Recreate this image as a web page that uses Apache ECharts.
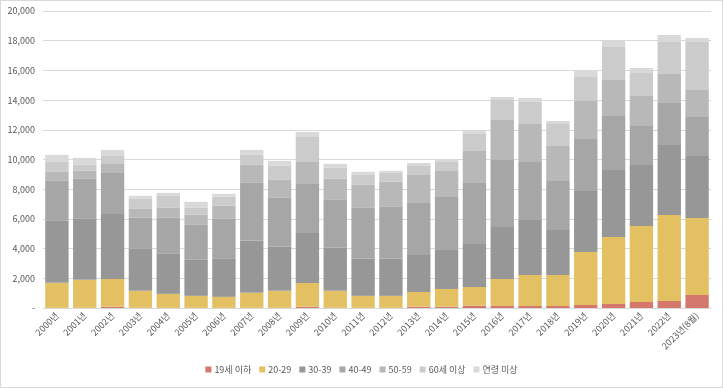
<!DOCTYPE html>
<html><head><meta charset="utf-8">
<script src="https://cdn.jsdelivr.net/npm/echarts@6/dist/echarts.min.js"></script>
<style>html,body{margin:0;padding:0;background:#fff}#c{width:721px;height:386px;border:1px solid #d9d9d9}</style>
</head><body><div id="c"></div>
<script>
const categories = ['2000년','2001년','2002년','2003년','2004년','2005년','2006년','2007년','2008년','2009년','2010년','2011년','2012년','2013년','2014년','2015년','2016년','2017년','2018년','2019년','2020년','2021년','2022년','2023년(8월)'];
const under19 = [10,10,90,10,10,10,10,10,10,90,10,10,10,90,90,157,135,135,135,202,269,404,471,875];
const age20s = [1684,1886,1863,1145,943,808,741,1010,1145,1594,1145,808,808,987,1190,1257,1818,2087,2087,3569,4512,5118,5792,5186];
const age30s = [4175,4107,4377,2828,2693,2424,2559,3524,2963,3367,2895,2492,2492,2492,2626,2896,3502,3704,3031,4108,4512,4108,4714,4175];
const age40s = [2693,2694,2761,2088,2425,2357,2693,3884,3299,3299,3233,3434,3501,3502,3569,4108,4512,3906,3299,3502,3637,2626,2828,2626];
const age50s = [606,539,606,606,673,674,876,1212,1213,1482,1414,1549,1684,1885,1751,2155,2693,2559,2357,2559,2424,2020,1953,1818];
const age60plus = [674,404,539,673,808,471,606,673,943,1684,741,673,606,607,606,1144,1347,1481,1482,1616,2222,1549,2155,3233];
const unknown = [471,471,404,202,202,404,202,337,336,336,269,202,135,202,202,202,202,270,202,471,471,337,471,269];
const yTicks = [0,2000,4000,6000,8000,10000,12000,14000,16000,18000,20000];

const seriesNames = ['19세 이하','20-29','30-39','40-49','50-59','60세 이상','연령 미상'];
const seriesData = [under19, age20s, age30s, age40s, age50s, age60plus, unknown];
const colors = ['#D4786D','#E3C163','#979797','#A6A6A6','#B8B8B8','#CBCBCB','#D9D9D9'];
const font = "'Noto Sans CJK KR', 'Noto Sans', sans-serif";

const chart = echarts.init(document.getElementById('c'));
chart.setOption({
  animation: false,
  textStyle: {fontFamily: font},
  grid: {left: 42, right: 11, top: 10, bottom: 79, containLabel: false},
  legend: {
    bottom: 8, left: 'center',
    itemWidth: 6, itemHeight: 6, itemGap: 8,
    icon: 'rect',
    textStyle: {fontSize: 9, color: '#595959', fontFamily: font, padding: [0,0,0,-2]},
    data: seriesNames
  },
  xAxis: {
    type: 'category', data: categories,
    axisLine: {lineStyle: {color: '#d9d9d9'}},
    axisTick: {show: false},
    axisLabel: {rotate: 45, fontSize: 9, color: '#595959', interval: 0, margin: 6}
  },
  yAxis: {
    type: 'value', min: yTicks[0], max: yTicks[yTicks.length - 1], interval: 2000,
    axisLine: {show: false}, axisTick: {show: false},
    splitLine: {lineStyle: {color: '#d9d9d9'}},
    axisLabel: {fontSize: 9, color: '#595959', margin: 8,
      formatter: v => v === 0 ? '-' : v.toLocaleString('en-US')}
  },
  series: seriesNames.map((n, i) => ({
    name: n, type: 'bar', stack: 'total', data: seriesData[i],
    barCategoryGap: '16%',
    itemStyle: {color: colors[i]}
  }))
});
</script></body></html>
